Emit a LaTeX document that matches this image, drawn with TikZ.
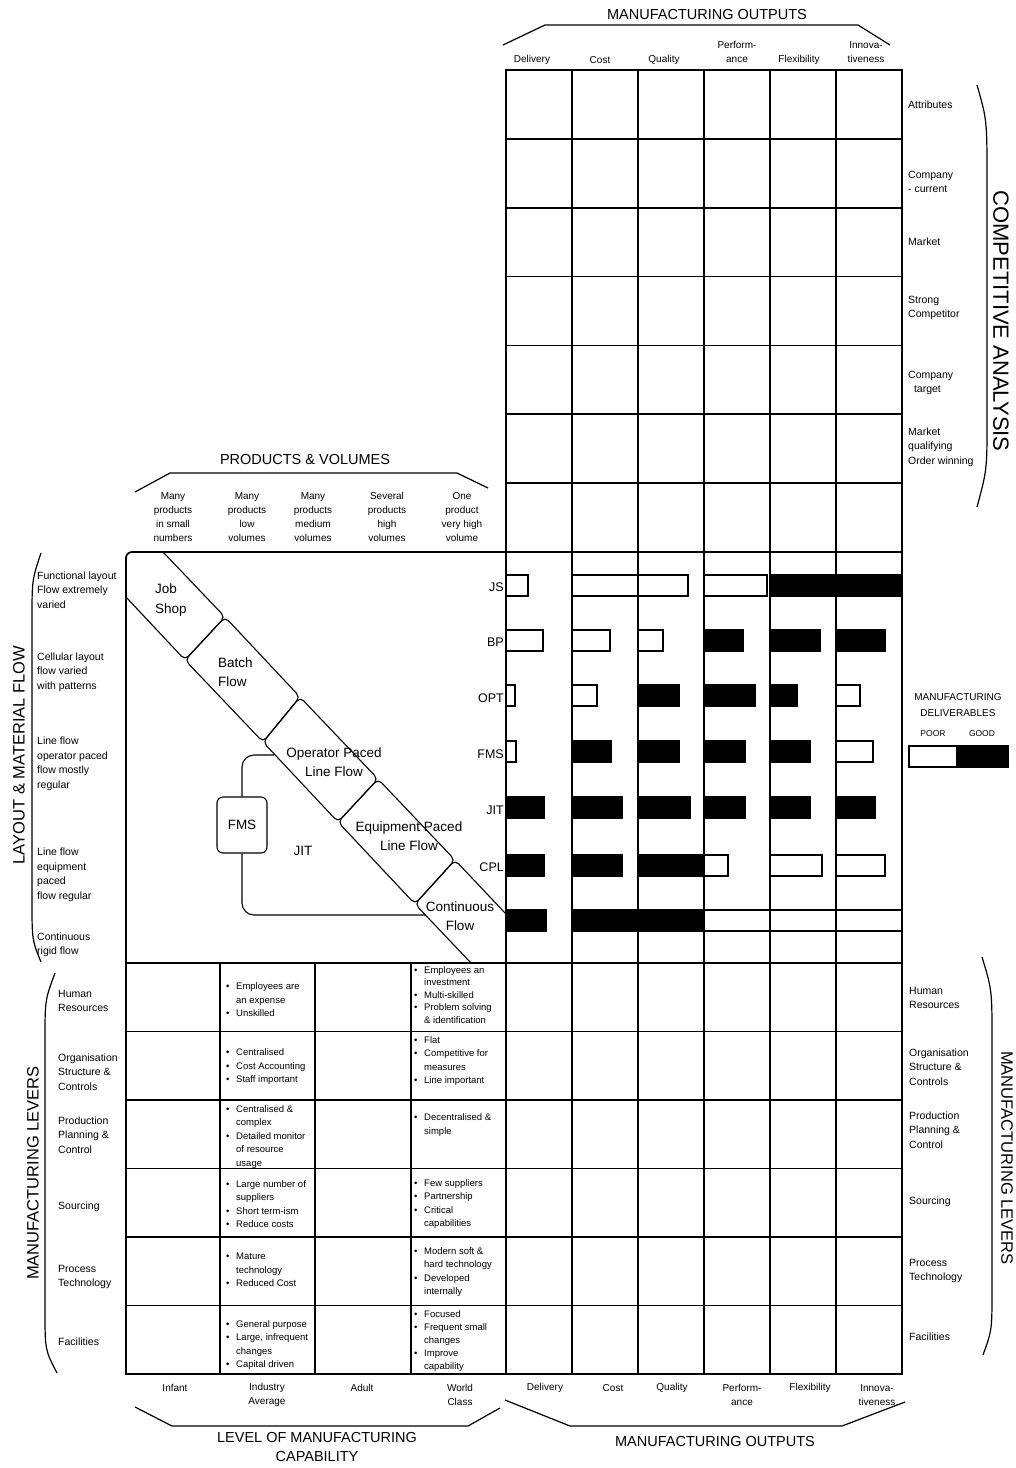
\documentclass[tikz,border=0pt]{standalone}
\usepackage{fontspec}
\setmainfont{Liberation Sans}
\usepackage{tikz}
\usetikzlibrary{calc}

\newcommand{\bl}{\makebox[10pt][l]{\textbullet}}
\newcommand{\ind}{\hspace*{10pt}}
% one bar of the deliverables chart: column, top, length, style
\newcommand{\dbar}[4]{\draw[#4] ({506+66*#1},#2) rectangle ++(#3,21);}

\begin{document}
\begin{tikzpicture}[x=1pt, y=-1pt,
  gridline/.style={line width=1.7pt, line cap=rect},
  bandline/.style={line width=1.1pt},
  brace/.style={line width=1.2pt},
  good/.style={draw, line width=1.2pt, fill=black},
  poor/.style={draw, line width=1.2pt, fill=white},
  lbl/.style={anchor=west, align=left, inner sep=0pt, font=\fontsize{10.5}{14.5}\selectfont},
  hdr/.style={align=center, inner sep=0pt, font=\fontsize{10}{14}\selectfont},
  bulletcell/.style={anchor=west, align=left, inner sep=0pt, font=\fontsize{9.5}{13.5}\selectfont},
  titletext/.style={align=center, inner sep=0pt, font=\fontsize{14.5}{19}\selectfont},
  sidelabel/.style={inner sep=0pt, font=\fontsize{16.5}{20}\selectfont},
  bandtext/.style={align=center, inner sep=0pt, font=\fontsize{13.5}{19.5}\selectfont},
  rowtag/.style={anchor=east, inner sep=0pt, font=\fontsize{12.5}{15}\selectfont},
]
\useasboundingbox (0,0) rectangle (1016,1468);
\fill[white] (0,0) rectangle (1016,1468);

% Grid lines
\foreach \x in {506,572,...,902} \draw[gridline] (\x,70) -- (\x,1374);
\foreach \i in {0,...,6} \draw[gridline] (506,{70+68.86*\i}) -- (902,{70+68.86*\i});
\draw[gridline, rounded corners=6pt] (126,963) -- (126,552) -- (902,552);
\foreach \i in {0,...,6} \draw[gridline] (126,{963+68.5*\i}) -- (902,{963+68.5*\i});
\foreach \x in {126,220,315,411} \draw[gridline] (\x,963) -- (\x,1374);

% Manufacturing outputs (top)
\draw[brace] (503,45) -- (545,25) -- (858,25) -- (890,45);
\node[titletext] (outtop) at (707,15) {MANUFACTURING OUTPUTS};
\node[hdr] (tdel) at (532,60) {Delivery};
\node[hdr] (tcost) at (600,60) {Cost};
\node[hdr] (tqual) at (664,60) {Quality};
\node[hdr] (tperf) at (737,52) {Perform-\\ance};
\node[hdr] (tflex) at (799,60) {Flexibility};
\node[hdr] (tinno) at (866,52) {Innova-\\tiveness};

% Competitive analysis (right)
\node[lbl] (attr) at (908,105) {Attributes};
\node[lbl] (compcur) at (908,182) {Company\\- current};
\node[lbl] (market) at (908,242) {Market};
\node[lbl] (strong) at (908,308) {Strong\\Competitor};
\node[lbl] (comptgt) at (908,383) {Company\\\ \ target};
\node[lbl] (qualwin) at (908,447) {Market\\qualifying\\Order winning};
\draw[brace] (977,85) .. controls (987,120) .. (987,180) -- (987,420) .. controls (987,470) .. (977,507);
\node[sidelabel, rotate=-90, font=\fontsize{22}{24}\selectfont] (compan) at (1001,321) {COMPETITIVE ANALYSIS};

% Products & volumes
\draw[brace] (135,492) -- (170,473) -- (457,473) -- (488,488);
\node[titletext] (prodvol) at (305,460) {PRODUCTS \& VOLUMES};
\node[hdr] (pv1) at (173,517) {Many\\products\\in small\\numbers};
\node[hdr] (pv2) at (247,517) {Many\\products\\low\\volumes};
\node[hdr] (pv3) at (313,517) {Many\\products\\medium\\volumes};
\node[hdr] (pv4) at (387,517) {Several\\products\\high\\volumes};
\node[hdr] (pv5) at (462,517) {One\\product\\very high\\volume};

% Layout & material flow (left)
\draw[brace] (41,553) .. controls (32,580) .. (32,620) -- (32,900) .. controls (32,940) .. (41,962);
\node[sidelabel, rotate=90] (layflow) at (19,755) {LAYOUT \& MATERIAL FLOW};
\node[lbl] (lay1) at (37,590) {Functional layout\\Flow extremely\\varied};
\node[lbl] (lay2) at (37,672) {Cellular layout\\flow varied\\with patterns};
\node[lbl] (lay3) at (37,764) {Line flow\\operator paced\\flow mostly\\regular};
\node[lbl] (lay4) at (37,875) {Line flow\\equipment\\paced\\flow regular};
\node[lbl] (lay5) at (37,945) {Continuous\\rigid flow};

% Process band
\coordinate (u0) at (163,552); \coordinate (l0) at (126,597);
\coordinate (u1) at (225,617); \coordinate (l1) at (185,660);
\coordinate (u2) at (300,697); \coordinate (l2) at (263,742);
\coordinate (u3) at (378,779); \coordinate (l3) at (338,822);
\coordinate (u4) at (455,860); \coordinate (l4) at (415,904);
\coordinate (u5) at (506,914); \coordinate (l5) at (471,963);
\draw[bandline, rounded corners=5pt] (u0) -- (u1) -- (l1) -- (l0);
\draw[bandline, rounded corners=5pt] (u1) -- (u2) -- (l2) -- (l1) -- cycle;
\draw[bandline, rounded corners=5pt] (u2) -- (u3) -- (l3) -- (l2) -- cycle;
\draw[bandline, rounded corners=5pt] (u3) -- (u4) -- (l4) -- (l3) -- cycle;
\draw[bandline, rounded corners=5pt] (u5) -- (u4) -- (l4) -- (l5);
\node[bandtext, anchor=west, align=left] (jobshop) at (155,600) {Job\\Shop};
\node[bandtext, anchor=west, align=left] (batch) at (218,672) {Batch\\Flow};
\node[bandtext] (opl) at (334,762) {Operator Paced\\Line Flow};
\node[bandtext] (epl) at (409,836) {Equipment Paced\\Line Flow};
\node[bandtext] (contflow) at (460,916) {Continuous\\Flow};

% FMS / JIT loop
\node[draw, bandline, rounded corners=6pt, minimum width=50pt, minimum height=56pt, inner sep=0pt, font=\fontsize{13.5}{16}\selectfont] (fmsbox) at (242,825) {FMS};
\coordinate (jitin) at (274,755);
\coordinate (jitout) at (426,915);
\draw[bandline, rounded corners=12pt] (jitin) -| (fmsbox.north);
\draw[bandline, rounded corners=12pt] (fmsbox.south) |- (jitout);
\node[bandtext] (jit) at (303,851) {JIT};

% Deliverables bars
\node[rowtag] (tagjs) at (504,587) {JS};
\node[rowtag] (tagbp) at (504,642) {BP};
\node[rowtag] (tagopt) at (504,698) {OPT};
\node[rowtag] (tagfms) at (504,754) {FMS};
\node[rowtag] (tagjit) at (504,810) {JIT};
\node[rowtag] (tagcpl) at (504,867) {CPL};
\dbar{0}{575}{22}{poor} \dbar{1}{575}{66}{poor} \dbar{2}{575}{50}{poor}
\dbar{3}{575}{63}{poor} \dbar{4}{575}{66}{good} \dbar{5}{575}{66}{good}
\dbar{0}{630}{37}{poor} \dbar{1}{630}{38}{poor} \dbar{2}{630}{25}{poor}
\dbar{3}{630}{39}{good} \dbar{4}{630}{50}{good} \dbar{5}{630}{49}{good}
\dbar{0}{685}{9}{poor}  \dbar{1}{685}{25}{poor} \dbar{2}{685}{41}{good}
\dbar{3}{685}{51}{good} \dbar{4}{685}{27}{good} \dbar{5}{685}{24}{poor}
\dbar{0}{741}{10}{poor} \dbar{1}{741}{39}{good} \dbar{2}{741}{41}{good}
\dbar{3}{741}{41}{good} \dbar{4}{741}{40}{good} \dbar{5}{741}{37}{poor}
\dbar{0}{797}{38}{good} \dbar{1}{797}{50}{good} \dbar{2}{797}{52}{good}
\dbar{3}{797}{41}{good} \dbar{4}{797}{40}{good} \dbar{5}{797}{39}{good}
\dbar{0}{855}{38}{good} \dbar{1}{855}{50}{good} \dbar{2}{855}{66}{good}
\dbar{3}{855}{24}{poor} \dbar{4}{855}{52}{poor} \dbar{5}{855}{49}{poor}
\dbar{0}{910}{40}{good} \dbar{1}{910}{66}{good} \dbar{2}{910}{66}{good}
\dbar{3}{910}{66}{poor} \dbar{4}{910}{66}{poor} \dbar{5}{910}{66}{poor}

% Legend
\node[hdr, font=\fontsize{10}{16}\selectfont] (legend) at (958,705) {MANUFACTURING\\DELIVERABLES};
\node[hdr, font=\fontsize{8.5}{10}\selectfont] (poorlbl) at (933,734) {POOR};
\node[hdr, font=\fontsize{8.5}{10}\selectfont] (goodlbl) at (982,734) {GOOD};
\draw[poor] (909,746) rectangle (957,767);
\draw[good] (957,746) rectangle (1008,767);

% Manufacturing levers (left)
\draw[brace] (55,973) .. controls (45,1000) .. (45,1040) -- (45,1310) .. controls (45,1350) .. (57,1373);
\node[sidelabel, rotate=90] (levleft) at (33,1173) {MANUFACTURING LEVERS};
\node[lbl] (hrl) at (58,1001) {Human\\Resources};
\node[lbl] (orgl) at (58,1072) {Organisation\\Structure \&\\Controls};
\node[lbl] (ppcl) at (58,1135) {Production\\Planning \&\\Control};
\node[lbl] (srcl) at (58,1207) {Sourcing};
\node[lbl] (ptl) at (58,1277) {Process\\Technology};
\node[lbl] (facl) at (58,1342) {Facilities};

% Industry average column
\node[bulletcell] (ia1) at (226,1000) {\bl Employees are\\\ind an expense\\\bl Unskilled};
\node[bulletcell] (ia2) at (226,1067) {\bl Centralised\\\bl Cost Accounting\\\bl Staff important};
\node[bulletcell] (ia3) at (226,1137) {\bl Centralised \&\\\ind complex\\\bl Detailed monitor\\\ind of resource\\\ind usage};
\node[bulletcell] (ia4) at (226,1204) {\bl Large number of\\\ind suppliers\\\bl Short term-ism\\\bl Reduce costs};
\node[bulletcell] (ia5) at (226,1270) {\bl Mature\\\ind technology\\\bl Reduced Cost};
\node[bulletcell] (ia6) at (226,1345) {\bl General purpose\\\bl Large, infrequent\\\ind changes\\\bl Capital driven};

% World class column
\node[bulletcell, font=\fontsize{9.5}{12.5}\selectfont] (wc1) at (414,995) {\bl Employees an\\\ind investment\\\bl Multi-skilled\\\bl Problem solving\\\ind \& identification};
\node[bulletcell] (wc2) at (414,1061) {\bl Flat\\\bl Competitive for\\\ind measures\\\bl Line important};
\node[bulletcell] (wc3) at (414,1125) {\bl Decentralised \&\\\ind simple};
\node[bulletcell] (wc4) at (414,1204) {\bl Few suppliers\\\bl Partnership\\\bl Critical\\\ind capabilities};
\node[bulletcell] (wc5) at (414,1272) {\bl Modern soft \&\\\ind hard technology\\\bl Developed\\\ind internally};
\node[bulletcell, font=\fontsize{9.5}{12.8}\selectfont] (wc6) at (414,1341) {\bl Focused\\\bl Frequent small\\\ind changes\\\bl Improve\\\ind capability};

% Manufacturing levers (right)
\node[lbl] (hrr) at (909,998) {Human\\Resources};
\node[lbl] (orgr) at (909,1067) {Organisation\\Structure \&\\Controls};
\node[lbl] (ppcr) at (909,1130) {Production\\Planning \&\\Control};
\node[lbl] (srcr) at (909,1202) {Sourcing};
\node[lbl] (ptr) at (909,1271) {Process\\Technology};
\node[lbl] (facr) at (909,1337) {Facilities};
\draw[brace] (982,957) .. controls (992,990) .. (992,1040) -- (992,1290) .. controls (992,1330) .. (983,1355);
\node[sidelabel, rotate=-90] (levright) at (1007,1158) {MANUFACTURING LEVERS};

% Capability level (bottom left)
\node[hdr] (infant) at (175,1388) {Infant};
\node[hdr] (indavg) at (267,1395) {Industry\\Average};
\node[hdr] (adult) at (362,1388) {Adult};
\node[hdr] (worldcl) at (460,1395) {World\\Class};
\draw[brace] (135,1407) -- (172,1426) -- (468,1426) -- (500,1408);
\node[titletext] (capab) at (317,1447) {LEVEL OF MANUFACTURING\\CAPABILITY};

% Manufacturing outputs (bottom)
\node[hdr] (bdel) at (545,1388) {Delivery};
\node[hdr] (bcost) at (613,1388) {Cost};
\node[hdr] (bqual) at (672,1388) {Quality};
\node[hdr] (bperf) at (742,1395) {Perform-\\ance};
\node[hdr] (bflex) at (810,1388) {Flexibility};
\node[hdr] (binno) at (877,1395) {Innova-\\tiveness};
\draw[brace] (505,1400) -- (570,1426) -- (842,1426) -- (905,1402);
\node[titletext] (outbot) at (715,1441) {MANUFACTURING OUTPUTS};
\end{tikzpicture}
\end{document}
